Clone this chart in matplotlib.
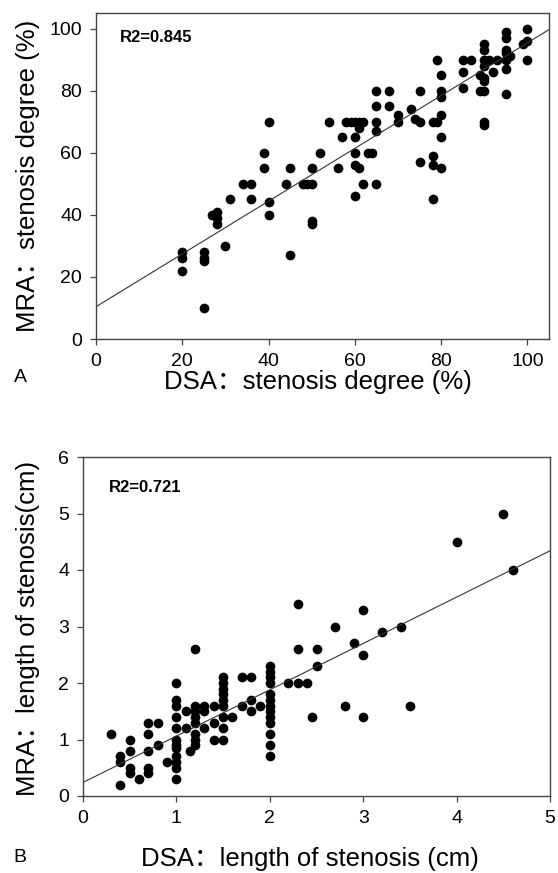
import matplotlib
matplotlib.use("Agg")
import matplotlib.pyplot as plt
import numpy as np

# ---------------- Panel A data (stenosis degree, %) ----------------
dsa_degree = [20, 20, 20, 25, 25, 25, 25, 27, 28, 28, 28, 30, 31, 34, 36, 36,
              39, 39, 40, 40, 40, 44, 45, 45, 48, 49, 50, 50, 50, 50,
              52, 54, 56, 57, 58, 59, 60, 61, 62, 61, 60, 60, 63, 64, 60, 61, 60,
              62, 65, 65, 68, 65, 68, 65, 65, 70, 70, 73, 74, 75, 75, 75,
              78, 79, 80, 80, 78, 78, 80, 78, 80, 80, 80, 79,
              85, 87, 85, 85, 89, 89, 90, 90, 90, 90, 90, 90, 90, 91, 93, 92,
              90, 90, 95, 95, 95, 95, 96, 95, 95, 95, 99, 100, 100, 100]
mra_degree = [28, 26, 22, 28, 26, 25, 10, 40, 41, 39, 37, 30, 45, 50, 50, 45,
              60, 55, 70, 44, 40, 50, 55, 27, 50, 50, 50, 55, 38, 37,
              60, 70, 55, 65, 70, 70, 70, 70, 70, 68, 65, 60, 60, 60, 56, 55, 46,
              50, 50, 80, 80, 75, 75, 70, 67, 72, 70, 74, 71, 70, 80, 57,
              70, 70, 72, 65, 59, 56, 55, 45, 80, 78, 85, 90,
              90, 90, 86, 81, 85, 80, 80, 83, 84, 88, 95, 93, 90, 90, 90, 86,
              70, 69, 99, 97, 93, 92, 91, 90, 87, 79, 95, 96, 100, 90]
fit_a_intercept, fit_a_slope = 10.4, 0.85
r2_a = "R2=0.845"

# ---------------- Panel B data (length of stenosis, cm) ----------------
dsa_length = [0.3, 0.4, 0.4, 0.4, 0.5, 0.5, 0.5, 0.5, 0.6,
              0.7, 0.7, 0.7, 0.7, 0.7, 0.8, 0.8, 0.9,
              1.0, 1.0, 1.0, 1.0, 1.0, 1.0, 1.0, 1.0, 1.0, 1.0, 1.0, 1.0,
              1.1, 1.1, 1.15,
              1.2, 1.2, 1.2, 1.2, 1.2, 1.2, 1.2, 1.2,
              1.3, 1.3, 1.3, 1.4, 1.4, 1.4,
              1.5, 1.5, 1.5, 1.5, 1.5, 1.5, 1.5, 1.5, 1.5,
              1.6, 1.7, 1.7, 1.8, 1.8, 1.8, 1.9,
              2.0, 2.0, 2.0, 2.0, 2.0, 2.0, 2.0, 2.0, 2.0, 2.0, 2.0, 2.0, 2.0,
              2.2, 2.3, 2.3, 2.3, 2.4, 2.45,
              2.5, 2.5, 2.7, 2.8, 2.9, 3.0, 3.0, 3.0, 3.2, 3.4, 3.5,
              4.0, 4.5, 4.6]
mra_length = [1.1, 0.7, 0.6, 0.2, 1.0, 0.8, 0.5, 0.4, 0.3,
              1.3, 1.1, 0.8, 0.5, 0.4, 1.3, 0.9, 0.6,
              2.0, 1.7, 1.6, 1.4, 1.2, 1.0, 0.9, 0.85, 0.7, 0.6, 0.5, 0.3,
              1.5, 1.2, 0.8,
              2.6, 1.6, 1.5, 1.4, 1.3, 1.1, 1.0, 0.9,
              1.6, 1.5, 1.2, 1.6, 1.3, 1.0,
              2.1, 2.0, 1.9, 1.8, 1.7, 1.6, 1.4, 1.2, 1.0,
              1.4, 2.1, 1.6, 2.1, 1.7, 1.5, 1.6,
              2.3, 2.2, 2.1, 2.0, 1.8, 1.7, 1.6, 1.5, 1.4, 1.3, 1.1, 0.9, 0.7,
              2.0, 3.4, 2.6, 2.0, 2.0, 1.4,
              2.6, 2.3, 3.0, 1.6, 2.7, 3.3, 2.5, 1.4, 2.9, 3.0, 1.6,
              4.5, 5.0, 4.0]
fit_b_intercept, fit_b_slope = 0.24, 0.82
r2_b = "R2=0.721"

xticks_a = [0, 20, 40, 60, 80, 100]
yticks_a = [0, 20, 40, 60, 80, 100]
xticks_b = [0, 1, 2, 3, 4, 5]
yticks_b = [0, 1, 2, 3, 4, 5, 6]

xlabel_a = 'DSA：stenosis degree (%)'
ylabel_a = 'MRA：stenosis degree (%)'
xlabel_b = 'DSA：length of stenosis (cm)'
ylabel_b = 'MRA：length of stenosis(cm)'

FAM = ['Liberation Sans', 'Noto Sans CJK SC', 'DejaVu Sans']
plt.rcParams['font.family'] = FAM

W, H = 558, 873
fig = plt.figure(figsize=(W / 100, H / 100), dpi=100)


def px_axes(l, t, r, b):
    return fig.add_axes([l / W, 1 - b / H, (r - l) / W, (b - t) / H])


def ftext(x, y, s, **kw):
    fig.text(x / W, 1 - y / H, s, ha='center', va='center', **kw)


def style(ax):
    for s in ax.spines.values():
        s.set_color('#444444')
        s.set_linewidth(1.0)
    ax.tick_params(direction='out', length=4, width=0.9, color='#444444',
                   labelsize=14, pad=6, top=False, right=False)


axA = px_axes(96, 13, 549, 339)
axA.plot(dsa_degree, mra_degree, 'o', color='black', markersize=7, markeredgewidth=0)
xl = np.array([0, 105])
axA.plot(xl, fit_a_intercept + fit_a_slope * xl, color='#333333', lw=0.8)
axA.set_xlim(0, 105)
axA.set_ylim(0, 105)
axA.set_xticks(xticks_a)
axA.set_yticks(yticks_a)
style(axA)
axA.text(0.052, 0.925, r2_a, transform=axA.transAxes, fontsize=12,
         fontweight='bold', va='center', ha='left')

axB = px_axes(83, 457, 550, 796)
axB.plot(dsa_length, mra_length, 'o', color='black', markersize=7, markeredgewidth=0)
xl = np.array([0, 5])
axB.plot(xl, fit_b_intercept + fit_b_slope * xl, color='#333333', lw=0.8)
axB.set_xlim(0, 5)
axB.set_ylim(0, 6)
axB.set_xticks(xticks_b)
axB.set_yticks(yticks_b)
style(axB)
axB.text(0.055, 0.91, r2_b, transform=axB.transAxes, fontsize=12,
         fontweight='bold', va='center', ha='left')

ftext(318, 382, xlabel_a, fontsize=18.5)
ftext(28, 176, ylabel_a, fontsize=18.5, rotation=90)
ftext(310, 859, xlabel_b, fontsize=18.5)
ftext(28, 628, ylabel_b, fontsize=18.5, rotation=90)

ftext(20, 378, 'A', fontsize=14)
ftext(20, 858, 'B', fontsize=14)

fig.savefig('out.png', dpi=100)
